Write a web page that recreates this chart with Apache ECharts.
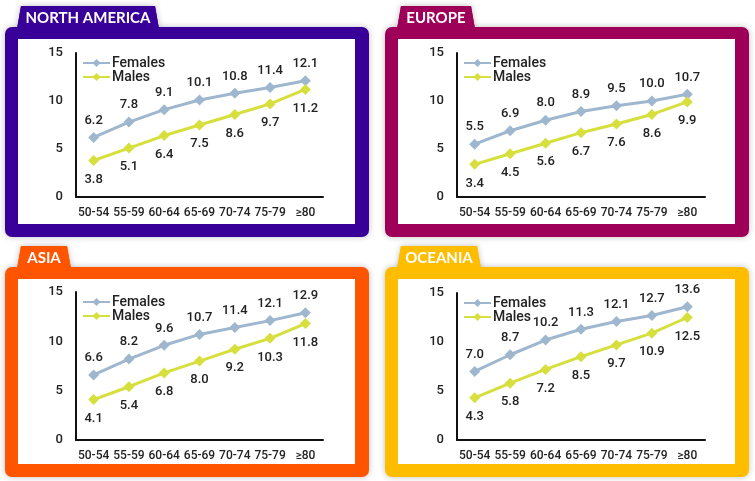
<!DOCTYPE html>
<html>
<head>
<meta charset="utf-8">
<script src="https://cdn.jsdelivr.net/npm/echarts@6/dist/echarts.min.js"></script>
<style>
html,body{margin:0;padding:0;background:#fff;}
#c{width:755px;height:481px;}
</style>
</head>
<body>
<div id="c"></div>
<script>
const categories = ['50-54','55-59','60-64','65-69','70-74','75-79','≥80'];
const yTicks = [0, 5, 10, 15];
const seriesNames = ['Females', 'Males'];
const regionNames = ['NORTH AMERICA', 'EUROPE', 'ASIA', 'OCEANIA'];

const naFemales = [6.2, 7.8, 9.1, 10.1, 10.8, 11.4, 12.1];
const naMales   = [3.8, 5.1, 6.4, 7.5, 8.6, 9.7, 11.2];
const euFemales = [5.5, 6.9, 8.0, 8.9, 9.5, 10.0, 10.7];
const euMales   = [3.4, 4.5, 5.6, 6.7, 7.6, 8.6, 9.9];
const asFemales = [6.6, 8.2, 9.6, 10.7, 11.4, 12.1, 12.9];
const asMales   = [4.1, 5.4, 6.8, 8.0, 9.2, 10.3, 11.8];
const ocFemales = [7.0, 8.7, 10.2, 11.3, 12.1, 12.7, 13.6];
const ocMales   = [4.3, 5.8, 7.2, 8.5, 9.7, 10.9, 12.5];

const regionData = [[naFemales, naMales], [euFemales, euMales], [asFemales, asMales], [ocFemales, ocMales]];

// layout / style
const frameColors = ['#390099', '#9e0059', '#ff5400', '#ffbd00'];
const lineColors = ['#9fb7ce', '#d6df3c'];
const frames = [
  {x: 5,   y: 27,  w: 364, h: 210, tabX: 17,  tabW: 142, tabY: 6},
  {x: 385, y: 27,  w: 364, h: 210, tabX: 397, tabW: 78,  tabY: 6},
  {x: 5,   y: 267, w: 364, h: 210, tabX: 17,  tabW: 54,  tabY: 246},
  {x: 385, y: 267, w: 364, h: 210, tabX: 397, tabW: 84,  tabY: 246}
];
const grids = [
  {left: 76,  top: 53,  width: 247, height: 144},
  {left: 457, top: 53,  width: 248, height: 144},
  {left: 76,  top: 292, width: 247, height: 148},
  {left: 457, top: 293, width: 248, height: 147}
];
const FONT = 'Roboto, "Noto Sans", sans-serif';
const TXT = '#222';

const graphic = [];
frames.forEach((f, i) => {
  const tabH = f.y - f.tabY + 2;
  const pts = [[f.tabX + 4, f.tabY], [f.tabX + f.tabW - 4, f.tabY], [f.tabX + f.tabW, f.tabY + tabH], [f.tabX, f.tabY + tabH]];
  graphic.push({
    type: 'polygon', z: 1,
    shape: {points: pts},
    style: {fill: frameColors[i], shadowBlur: 6, shadowColor: 'rgba(0,0,0,0.25)'}
  });
  graphic.push({
    type: 'rect', z: 2,
    shape: {x: f.x, y: f.y, width: f.w, height: f.h, r: 7},
    style: {fill: frameColors[i], shadowBlur: 6, shadowColor: 'rgba(0,0,0,0.25)'}
  });
  graphic.push({
    type: 'polygon', z: 3,
    shape: {points: pts},
    style: {fill: frameColors[i]}
  });
  graphic.push({
    type: 'rect', z: 4,
    shape: {x: f.x + 13, y: f.y + 12, width: f.w - 27, height: f.h - 25},
    style: {fill: '#ffffff'}
  });
  graphic.push({
    type: 'text', z: 5,
    x: f.tabX + f.tabW / 2, y: f.tabY + tabH / 2 + 1,
    style: {text: regionNames[i], fill: '#ffffff', font: 'bold 15px Lato, "Open Sans", sans-serif', align: 'center', verticalAlign: 'middle'}
  });
});

const option = {
  animation: false,
  backgroundColor: '#ffffff',
  graphic: graphic,
  grid: grids.map(g => Object.assign({containLabel: false}, g)),
  legend: grids.map((g, i) => ({
    data: seriesNames,
    orient: 'vertical',
    left: g.left + 6,
    top: g.top + 3,
    padding: 0,
    itemWidth: 27,
    itemHeight: 10,
    itemGap: 0,
    textStyle: {fontFamily: FONT, fontSize: 14, fontWeight: 500, color: TXT, padding: [0, 0, 0, -3]},
    z: 10
  })),
  xAxis: grids.map((g, i) => ({
    type: 'category',
    gridIndex: i,
    data: categories,
    boundaryGap: true,
    axisLine: {lineStyle: {color: '#111', width: 2}},
    axisTick: {show: false},
    axisLabel: {fontFamily: FONT, fontSize: 12, fontWeight: 500, color: TXT, margin: 10, interval: 0},
    z: 10
  })),
  yAxis: grids.map((g, i) => ({
    type: 'value',
    gridIndex: i,
    min: yTicks[0],
    max: yTicks[yTicks.length - 1],
    interval: yTicks[1] - yTicks[0],
    axisLine: {show: true, lineStyle: {color: '#111', width: 2}},
    axisTick: {show: false},
    splitLine: {show: false},
    axisLabel: {fontFamily: FONT, fontSize: 13, fontWeight: 500, color: TXT, margin: 13},
    z: 10
  })),
  series: []
};

regionData.forEach((pair, i) => {
  pair.forEach((vals, s) => {
    option.series.push({
      name: seriesNames[s],
      type: 'line',
      xAxisIndex: i,
      yAxisIndex: i,
      data: vals,
      z: 10,
      symbol: 'diamond',
      symbolSize: 11,
      lineStyle: {color: lineColors[s], width: 3},
      itemStyle: {color: lineColors[s]},
      label: {
        show: true,
        position: s === 0 ? 'top' : 'bottom',
        distance: s === 0 ? 5 : 7,
        fontFamily: FONT,
        fontSize: 13,
        fontWeight: 500,
        color: TXT,
        formatter: p => p.value.toFixed(1)
      }
    });
  });
});

const chart = echarts.init(document.getElementById('c'), null, {renderer: 'canvas'});
chart.setOption(option);
</script>
</body>
</html>
